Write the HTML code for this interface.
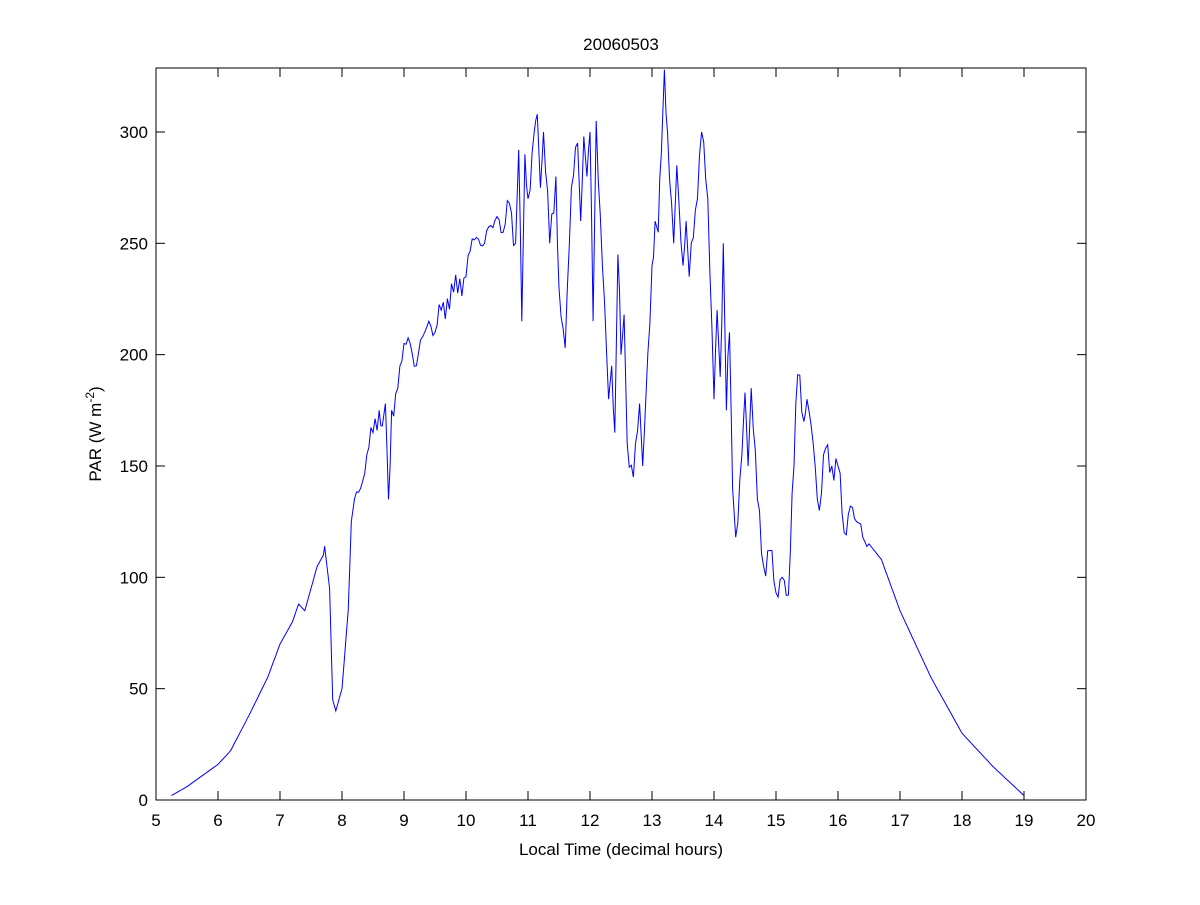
<!DOCTYPE html>
<html><head><meta charset="utf-8"><style>
body{margin:0;background:#fff;}
svg text{font-family:"Liberation Sans",sans-serif;font-size:17px;fill:#000;}
</style></head><body>
<svg id="s" width="1200" height="900" xmlns="http://www.w3.org/2000/svg">
<rect x="0" y="0" width="1200" height="900" fill="#fff"/>
<rect x="156" y="68" width="930" height="732" fill="#fff" stroke="#000" stroke-width="1"/>
<g id="ticks"></g>
<polyline id="line" fill="none" stroke="#0000ff" stroke-width="1"/>
<text x="621" y="50" text-anchor="middle">20060503</text>
<text x="621" y="855" text-anchor="middle">Local Time (decimal hours)</text>
<text transform="translate(101,434) rotate(-90)" text-anchor="middle">PAR (W m<tspan dy="-7" font-size="12">-2</tspan><tspan dy="7">)</tspan></text>
</svg>
<script>
var X=t=>156+62*(t-5), Y=v=>800-2.2267*v;
var g=document.getElementById('ticks'),h='';
for(var t=5;t<=20;t++){var x=X(t);h+=`<line x1="${x}" y1="800" x2="${x}" y2="791" stroke="#000"/><line x1="${x}" y1="68" x2="${x}" y2="77" stroke="#000"/><text x="${x}" y="826" text-anchor="middle">${t}</text>`;}
for(var v=0;v<=300;v+=50){var y=Y(v);h+=`<line x1="156" y1="${y}" x2="165" y2="${y}" stroke="#000"/><line x1="1086" y1="${y}" x2="1077" y2="${y}" stroke="#000"/><text x="148" y="${y+6}" text-anchor="end">${v}</text>`;}
g.innerHTML=h;
var d=[5.25,2,5.5,6,6,16,6.2,22,6.5,38,6.8,55,7,70,7.2,80,7.3,88,7.4,85,7.5,95,7.6,105,7.7,110,7.72,114,7.8,95,7.85,45,7.9,40,8.0,50,8.1,85,8.15,125,8.2,135,8.3,140,8.4,155,8.5,165,8.6,175,8.65,168,8.7,178,8.75,135,8.8,175,8.9,185,9.0,205,9.1,205,9.2,195,9.3,208,9.4,215,9.5,210,9.6,220,9.8,228,10.0,235,10.1,252,10.2,252,10.3,250,10.4,258,10.5,262,10.6,255,10.7,268,10.8,250,10.85,292,10.9,215,10.95,290,11.0,270,11.1,300,11.15,308,11.2,275,11.25,300,11.35,250,11.45,280,11.5,230,11.6,203,11.7,275,11.8,295,11.85,260,11.9,298,11.95,280,12.0,300,12.05,215,12.1,305,12.2,240,12.3,180,12.35,195,12.4,165,12.45,245,12.5,200,12.55,218,12.6,160,12.7,145,12.8,178,12.85,150,12.9,180,13.0,240,13.05,260,13.1,255,13.15,290,13.2,328,13.25,300,13.35,250,13.4,285,13.5,240,13.55,260,13.6,235,13.7,265,13.8,300,13.9,270,14.0,180,14.05,220,14.1,190,14.15,250,14.2,175,14.25,210,14.3,140,14.35,118,14.45,155,14.5,183,14.55,150,14.6,185,14.7,135,14.8,105,14.9,112,15.0,93,15.1,100,15.2,92,15.35,191,15.45,170,15.5,180,15.6,160,15.7,130,15.8,158,15.9,150,16.0,150,16.1,120,16.2,132,16.3,125,16.5,115,16.7,108,17.0,85,17.5,55,18,30,18.5,15,19,2];
var p=[];
for(var i=0;i<d.length-2;i+=2){var t0=d[i],v0=d[i+1],t1=d[i+2],v1=d[i+3];var n=Math.max(1,Math.round((t1-t0)*30));
for(var k=0;k<n;k++){var f=k/n,t=t0+(t1-t0)*f,v=v0+(v1-v0)*f;var noisy=(t>8.2&&t<16.5)?(Math.sin(t*97.3)*4+Math.sin(t*211.7)*3):0;if(k==0)noisy=0;p.push(X(t).toFixed(1)+','+Y(v+noisy).toFixed(1));}}
p.push(X(19)+','+Y(2));
document.getElementById('line').setAttribute('points',p.join(' '));
</script>
</body></html>
